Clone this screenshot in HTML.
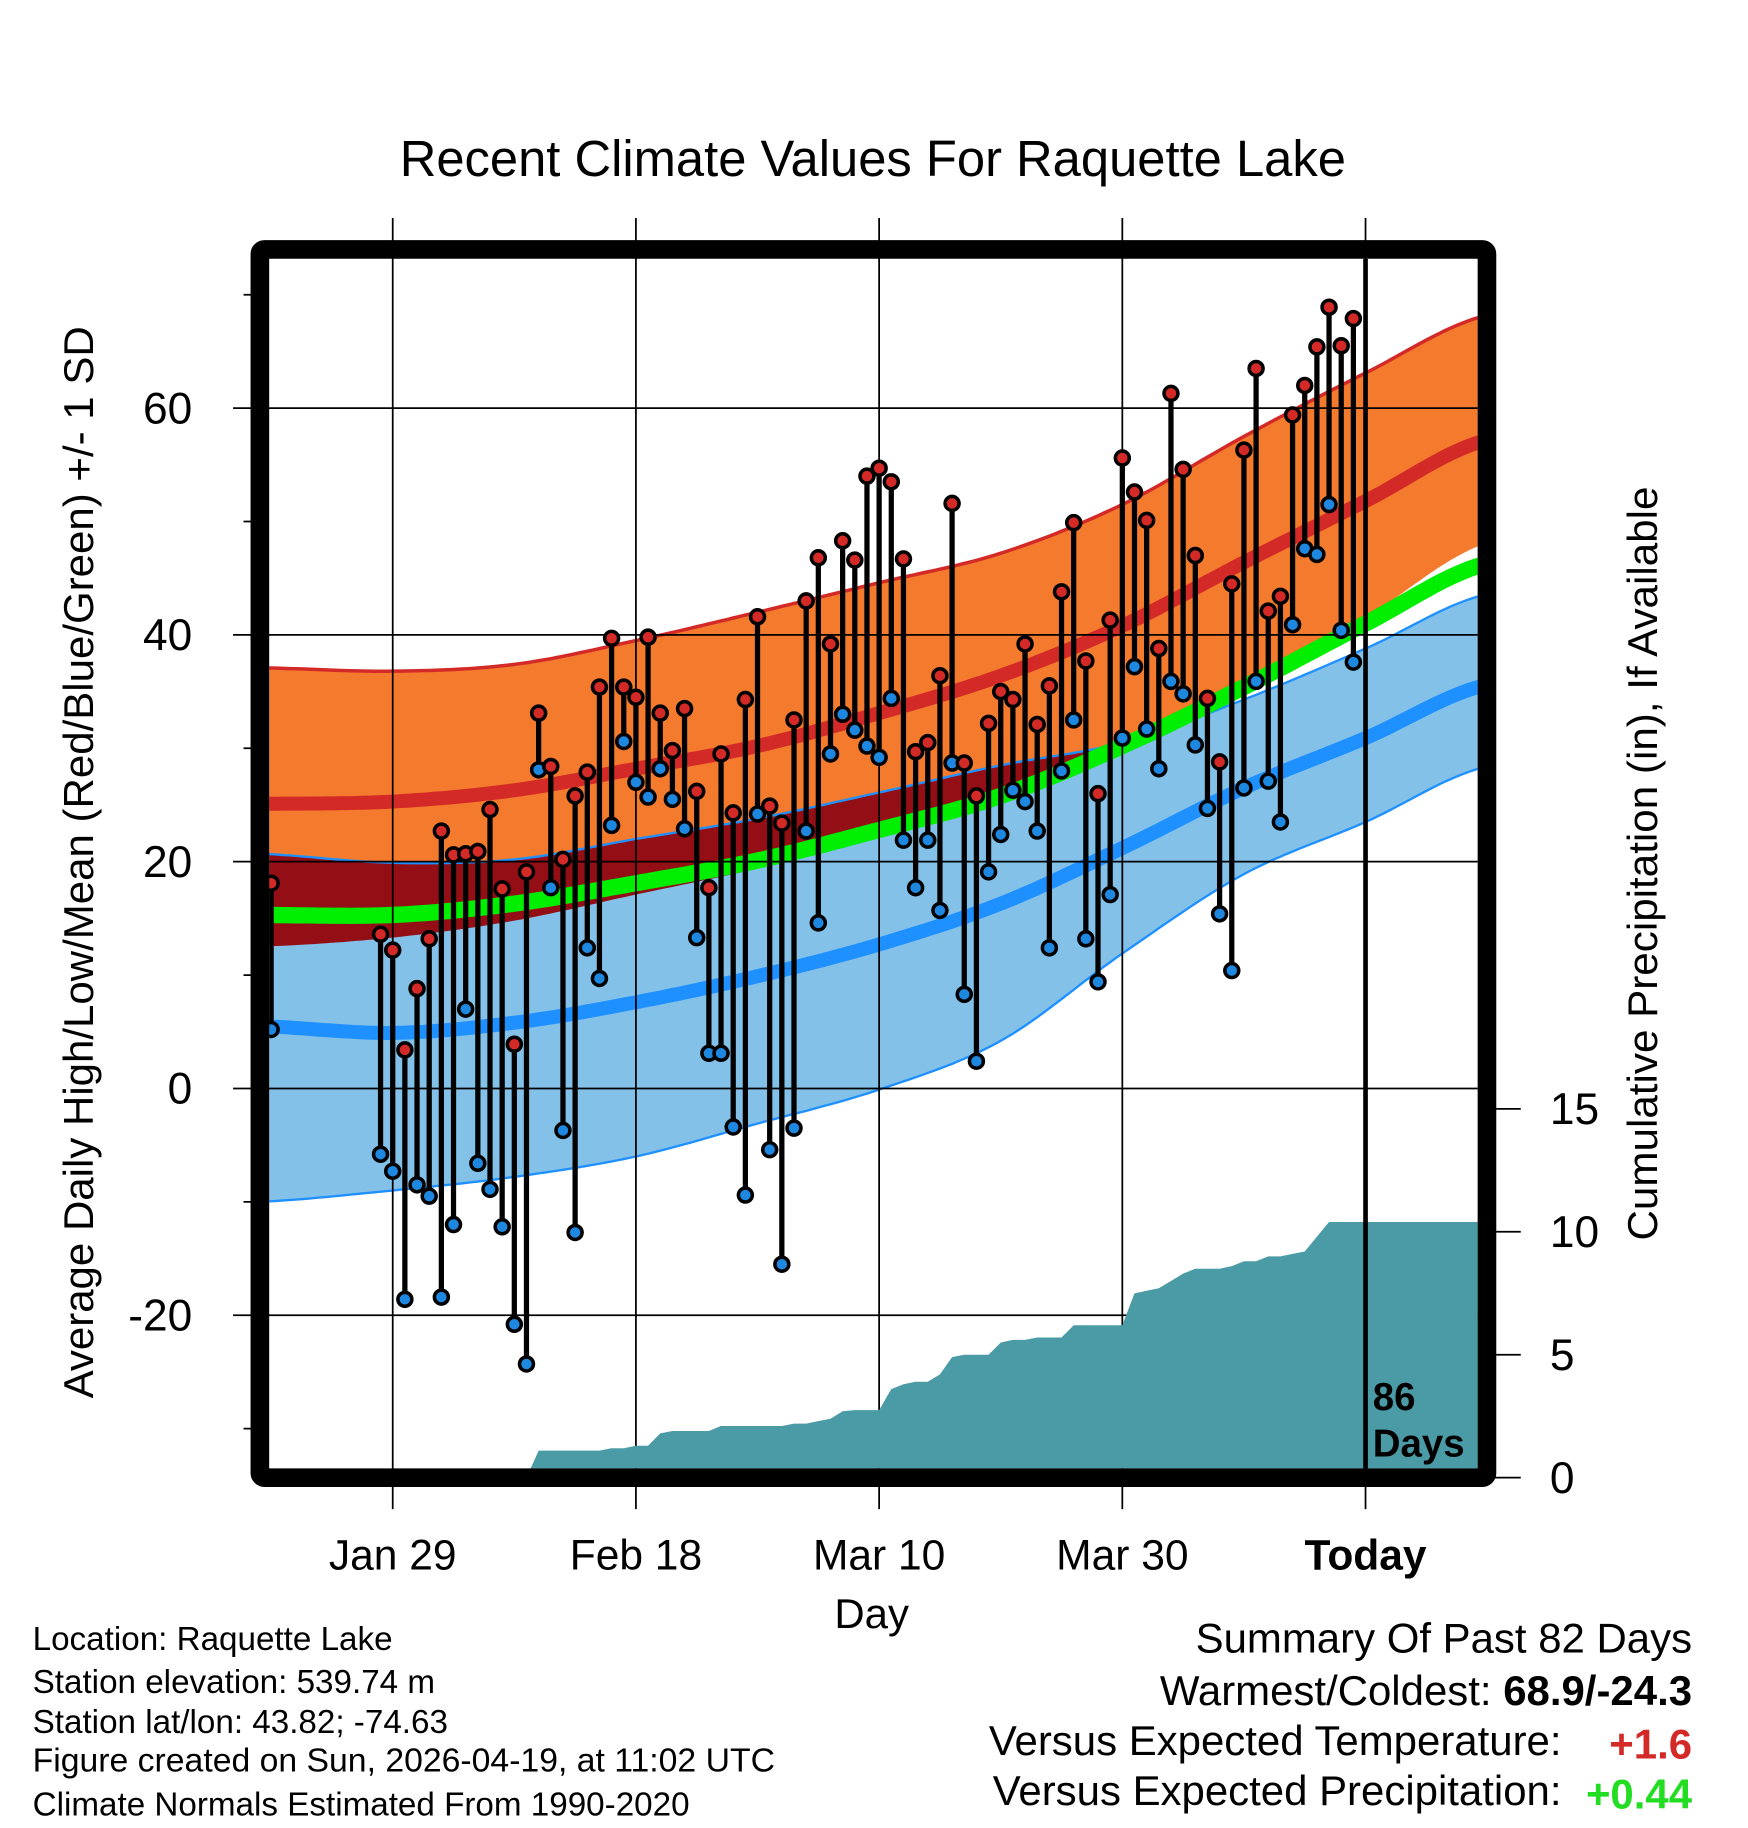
<!DOCTYPE html>
<html><head><meta charset="utf-8"><style>
html,body{margin:0;padding:0;background:#fff}
svg{display:block;font-family:"Liberation Sans",Arial,sans-serif}
</style></head><body>
<svg id="chart" width="1748" height="1828" viewBox="0 0 1500 1568.6" xmlns="http://www.w3.org/2000/svg">
<defs><clipPath id="pc"><rect x="231" y="222" width="1037" height="1038"/></clipPath></defs>
<g id="fills" clip-path="url(#pc)"></g>
<g id="grid"></g>
<g id="precip" clip-path="url(#pc)"></g>
<g id="marks" clip-path="url(#pc)"></g>
<rect x="223" y="214" width="1053" height="1054" fill="none" stroke="#000" stroke-width="16" rx="4"/>
<text x="749" y="151" font-size="43.5" text-anchor="middle" textLength="812" lengthAdjust="spacingAndGlyphs">Recent Climate Values For Raquette Lake</text>
<text transform="translate(80,740) rotate(-90)" font-size="36" text-anchor="middle" textLength="920" lengthAdjust="spacingAndGlyphs">Average Daily High/Low/Mean (Red/Blue/Green) +/- 1 SD</text>
<text transform="translate(1422,741) rotate(-90)" font-size="36" text-anchor="middle" textLength="647" lengthAdjust="spacingAndGlyphs">Cumulative Precipitation (in), If Available</text>
<text x="748" y="1397" font-size="36" text-anchor="middle">Day</text>
<text font-size="33" font-weight="bold"><tspan x="1178" y="1210">86</tspan><tspan x="1178" y="1250">Days</tspan></text>
<g font-size="28.5">
<text x="28" y="1416">Location: Raquette Lake</text>
<text x="28" y="1453">Station elevation: 539.74 m</text>
<text x="28" y="1487">Station lat/lon: 43.82; -74.63</text>
<text x="28" y="1520" textLength="637" lengthAdjust="spacingAndGlyphs">Figure created on Sun, 2026-04-19, at 11:02 UTC</text>
<text x="28" y="1558">Climate Normals Estimated From 1990-2020</text>
</g>
<g font-size="36" text-anchor="end">
<text x="1452" y="1418">Summary Of Past 82 Days</text>
<text x="1452" y="1463">Warmest/Coldest: <tspan font-weight="bold">68.9/-24.3</tspan></text>
<text x="1340" y="1506">Versus Expected Temperature:</text>
<text x="1452" y="1509" fill="#d42a27" font-weight="bold">+1.6</text>
<text x="1340" y="1549">Versus Expected Precipitation:</text>
<text x="1452" y="1552" fill="#22dd22" font-weight="bold">+0.44</text>
</g>
</svg>
<script>
// normals sampled every 10 days (day 0 = Jan 29)
const normDays=[-11,0,10,20,30,40,50,60,70,80,90];
const highPlus=[37.1,36.8,37.4,39.5,42.0,44.6,47.2,51.5,57.5,63.1,68.2];
const highMean=[25.1,25.3,26.3,28.2,30.2,33.1,36.4,40.8,46.4,51.8,57.2];
const highMinus=[12.5,13.3,14.8,17.1,19.4,22.2,25.3,29.7,35.1,41.5,48.1];
const avgMean=[15.3,15.3,16.3,18.1,20.1,22.8,25.8,30.2,35.4,41.0,46.3];
const lowPlus=[20.7,19.9,20.2,22.0,23.8,26.1,28.5,30.5,34.3,38.8,43.6];
const lowMean=[5.5,4.9,5.8,7.6,9.9,12.7,16.3,21.2,26.5,30.9,35.6];
const lowMinus=[-10.0,-9.0,-7.8,-6.0,-3.1,-0.1,4.2,11.9,18.9,23.5,28.4];
// observations
const obsDays=[-10,-1,0,1,2,3,4,5,6,7,8,9,10,11,12,13,14,15,16,17,18,19,20,21,22,23,24,25,26,27,28,29,30,31,32,33,34,35,36,37,38,39,40,41,42,43,44,45,46,47,48,49,50,51,52,53,54,55,56,57,58,59,60,61,62,63,64,65,66,67,68,69,70,71,72,73,74,75,76,77,78,79];
const highs=[18.1,13.6,12.2,3.4,8.8,13.2,22.7,20.6,20.7,20.9,24.6,17.6,3.9,19.1,33.1,28.4,20.2,25.8,27.9,35.4,39.7,35.4,34.5,39.8,33.1,29.8,33.5,26.2,17.7,29.5,24.3,34.3,41.6,24.9,23.4,32.5,43.0,46.8,39.2,48.3,46.6,54.0,54.7,53.5,46.7,29.7,30.5,36.4,51.6,28.7,25.8,32.2,35.0,34.3,39.2,32.1,35.5,43.8,49.9,37.7,26.0,41.3,55.6,52.6,50.1,38.8,61.3,54.6,47.0,34.4,28.8,44.5,56.3,63.5,42.1,43.4,59.4,62.0,65.4,68.9,65.5,67.9];
const lows=[5.2,-5.8,-7.3,-18.6,-8.5,-9.5,-18.4,-12.0,7.0,-6.6,-8.9,-12.2,-20.8,-24.3,28.1,17.7,-3.7,-12.7,12.4,9.7,23.2,30.6,27.0,25.7,28.2,25.5,22.9,13.3,3.1,3.1,-3.4,-9.4,24.2,-5.4,-15.5,-3.5,22.7,14.6,29.5,33.0,31.6,30.2,29.2,34.4,21.9,17.7,21.9,15.7,28.7,8.3,2.4,19.1,22.4,26.3,25.3,22.7,12.4,28.0,32.5,13.2,9.4,17.1,30.9,37.2,31.7,28.2,35.9,34.8,30.3,24.7,15.4,10.4,26.5,35.9,27.1,23.5,40.9,47.6,47.1,51.5,40.4,37.6];
// cumulative precipitation from day 11 to 79
const precipStart=11;
const precip=[0,1.1,1.1,1.1,1.1,1.1,1.1,1.2,1.2,1.3,1.3,1.8,1.9,1.9,1.9,1.9,2.1,2.1,2.1,2.1,2.1,2.1,2.2,2.2,2.3,2.4,2.7,2.75,2.75,2.75,3.6,3.8,3.9,3.9,4.2,4.9,5.0,5.0,5.0,5.5,5.6,5.6,5.7,5.7,5.7,6.2,6.2,6.2,6.2,6.2,7.5,7.6,7.7,8.0,8.3,8.5,8.5,8.5,8.6,8.8,8.8,9.0,9.0,9.1,9.2,9.8,10.4,10.4,10.4];
const yTicks=[-20,0,20,40,60];
const yMinor=[-30,-10,10,30,50,70];
const pTicks=[0,5,10,15];
const xTickDays=[0,20,40,60,80];
const xTickLabels=["Jan 29","Feb 18","Mar 10","Mar 30","Today"];
const todayDay=80;

const NS="http://www.w3.org/2000/svg";
const X=d=>337+10.435*d;
const Y=v=>934-9.73*v;
const YP=p=>1268-21.1*p;
function mk(tag,attrs,parent){const e=document.createElementNS(NS,tag);for(const k in attrs)e.setAttribute(k,attrs[k]);parent.appendChild(e);return e;}
function interp(arr,d){for(let i=0;i<normDays.length-1;i++){if(d<=normDays[i+1]){const a=normDays[i],b=normDays[i+1];let t=(d-a)/(b-a);t=Math.max(0,Math.min(1,t));
 const p0=arr[Math.max(0,i-1)],p1=arr[i],p2=arr[i+1],p3=arr[Math.min(arr.length-1,i+2)];
 return 0.5*((2*p1)+(-p0+p2)*t+(2*p0-5*p1+4*p2-p3)*t*t+(-p0+3*p1-3*p2+p3)*t*t*t);}}return arr[arr.length-1];}
const samples=[];for(let d=-11;d<=90;d+=0.5)samples.push(d);
function line(arr){return samples.map(d=>X(d).toFixed(1)+","+Y(interp(arr,d)).toFixed(1)).join(" ");}
function band(a,b){return samples.map(d=>X(d).toFixed(1)+","+Y(interp(a,d)).toFixed(1)).join(" ")+" "+samples.slice().reverse().map(d=>X(d).toFixed(1)+","+Y(interp(b,d)).toFixed(1)).join(" ");}
function overlap(){
 const pts1=samples.map(d=>X(d).toFixed(1)+","+Y(interp(lowPlus,d)).toFixed(1));
 const pts2=samples.slice().reverse().map(d=>X(d).toFixed(1)+","+Y(Math.min(interp(highMinus,d),interp(lowPlus,d))).toFixed(1));
 return pts1.join(" ")+" "+pts2.join(" ");}
const F=document.getElementById('fills');
let e;
e=mk('polygon',{points:band(highPlus,highMinus),fill:'#f47a2e'},F);


e=mk('polygon',{points:band(lowPlus,lowMinus),fill:'#83c1e8'},F);


e=mk('polygon',{points:overlap(),fill:'#940f15'},F);


e=mk('polyline',{points:line(highPlus),fill:'none',stroke:'#d42a27','stroke-width':3},F);


e=mk('polyline',{points:line(lowPlus),fill:'none',stroke:'#1e90ff','stroke-width':2},F);


e=mk('polyline',{points:line(lowMinus),fill:'none',stroke:'#1e90ff','stroke-width':2},F);


e=mk('polyline',{points:line(highMean),fill:'none',stroke:'#d42a27','stroke-width':12},F);


e=mk('polyline',{points:line(avgMean),fill:'none',stroke:'#00ee00','stroke-width':14},F);


e=mk('polyline',{points:line(lowMean),fill:'none',stroke:'#1e90ff','stroke-width':12},F);


// grid
const G=document.getElementById('grid');
yTicks.forEach(v=>{e=mk('line',{x1:200,x2:1268,y1:Y(v),y2:Y(v),stroke:'#000','stroke-width':1.5},G);


e=mk('text',{x:165,y:Y(v)+13,'font-size':38,'text-anchor':'end'},G);e.textContent=v;

});
yMinor.forEach(v=>{e=mk('line',{x1:209,x2:223,y1:Y(v),y2:Y(v),stroke:'#000','stroke-width':1.5},G);

});
xTickDays.forEach((d,i)=>{e=mk('line',{x1:X(d),x2:X(d),y1:187,y2:1295,stroke:'#000','stroke-width':1.5},G);


e=mk('text',{x:X(d),y:1347,'font-size':36.5,'text-anchor':'middle'},G);e.textContent=xTickLabels[i];
if(i===4)e.setAttribute('font-weight','bold');

});
pTicks.forEach(p=>{e=mk('line',{x1:1276,x2:1305,y1:YP(p),y2:YP(p),stroke:'#000','stroke-width':1.5},G);


e=mk('text',{x:1330,y:YP(p)+13,'font-size':38},G);e.textContent=p;

});
// precip area
const P=document.getElementById('precip');
let pts=[X(precipStart)+","+1270];
precip.forEach((v,i)=>pts.push(X(precipStart+i).toFixed(1)+","+YP(v).toFixed(1)));
pts.push("1270,"+YP(precip[precip.length-1]).toFixed(1));pts.push("1270,1270");
e=mk('polygon',{points:pts.join(" "),fill:'#4a9ba5'},P);


// today line
e=mk('line',{x1:X(todayDay),x2:X(todayDay),y1:222,y2:1268,stroke:'#000','stroke-width':4},P);


// observations
const M=document.getElementById('marks');
obsDays.forEach((d,i)=>{const x=X(d);
 e=mk('line',{x1:x,x2:x,y1:Y(highs[i]),y2:Y(lows[i]),stroke:'#000','stroke-width':4.5},M);
 
 
 e=mk('circle',{cx:x,cy:Y(highs[i]),r:6,fill:'#d42a27',stroke:'#000','stroke-width':3},M);
 
 
 e=mk('circle',{cx:x,cy:Y(lows[i]),r:6,fill:'#1e88e0',stroke:'#000','stroke-width':3},M);
 
 
});
</script>
</body></html>
